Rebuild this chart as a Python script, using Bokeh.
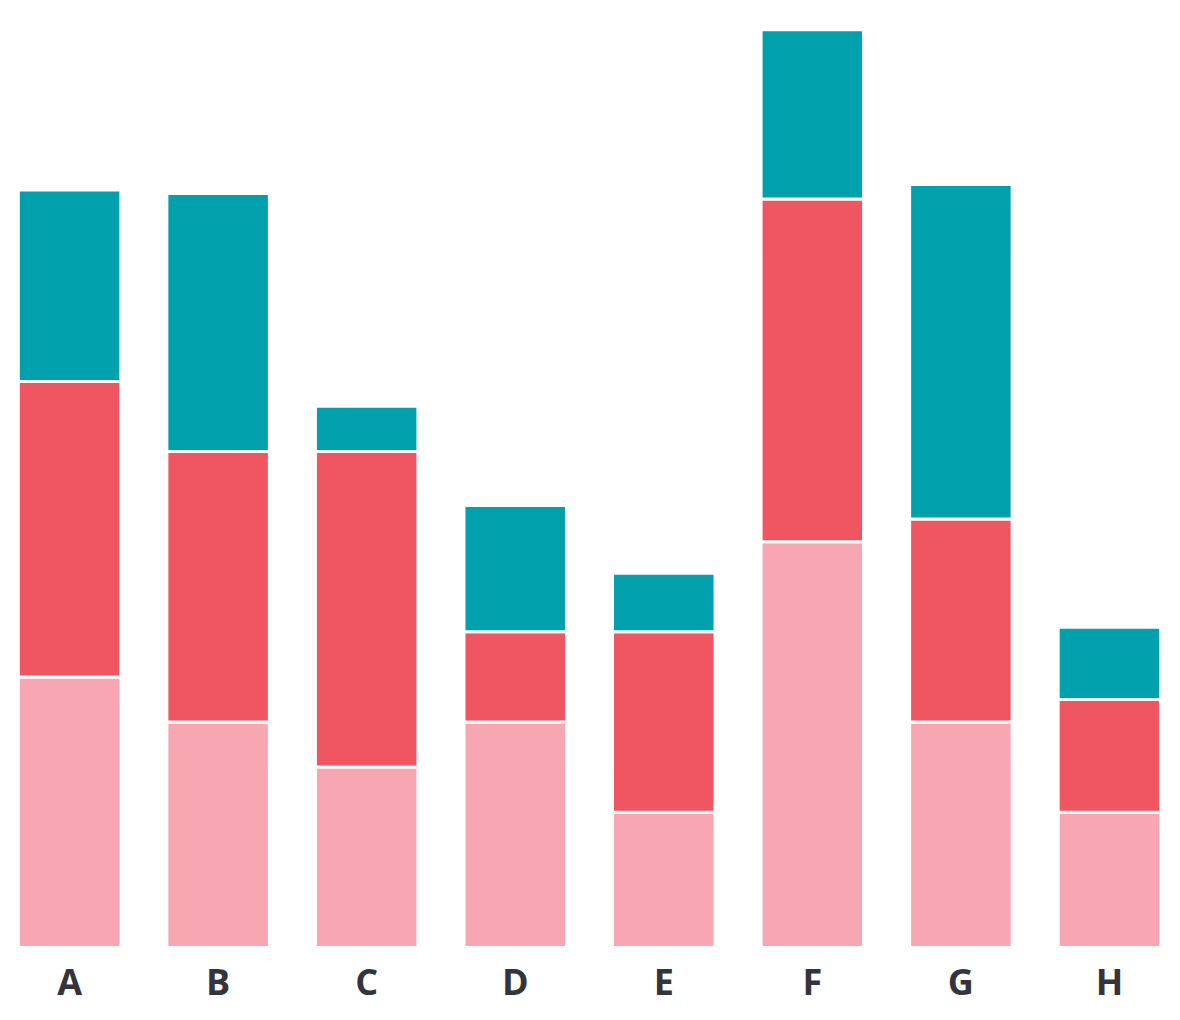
from bokeh.plotting import figure
from bokeh.models import ColumnDataSource, FactorRange, Range1d
from bokeh.embed import file_html
from bokeh.resources import INLINE

categories = ["A", "B", "C", "D", "E", "F", "G", "H"]
series_names = ["low", "mid", "high"]
low = [6, 5, 4, 5, 3, 9, 5, 3]
mid = [6.55, 6, 7, 2, 4, 7.6, 4.5, 2.5]
high = [4.25, 5.72, 1, 2.8, 1.3, 3.75, 7.42, 1.6]
colors = ["#f9a6b3", "#ef5661", "#00a0ad"]

source = ColumnDataSource(dict(x=categories, low=low, mid=mid, high=high))

p = figure(
    x_range=FactorRange(factors=categories, range_padding=-0.035, range_padding_units="absolute"),
    y_range=Range1d(0, 21.0),
    width=1180, height=1020,
    output_backend="svg", toolbar_location=None,
    min_border_left=0, min_border_right=2, min_border_top=0, min_border_bottom=73,
)

p.vbar_stack(series_names, x="x", width=0.69, color=colors, line_color="white",
             line_width=3, source=source)

p.yaxis.visible = False
p.xgrid.visible = False
p.ygrid.visible = False
p.outline_line_color = None
p.xaxis.axis_line_color = None
p.xaxis.major_tick_line_color = None
p.xaxis.minor_tick_line_color = None
p.xaxis.major_label_text_font = "Open Sans"
p.xaxis.major_label_text_font_style = "bold"
p.xaxis.major_label_text_font_size = "36px"
p.xaxis.major_label_text_color = "#35333b"
p.xaxis.major_label_standoff = 3

open("out.html", "w").write(file_html(p, INLINE))
